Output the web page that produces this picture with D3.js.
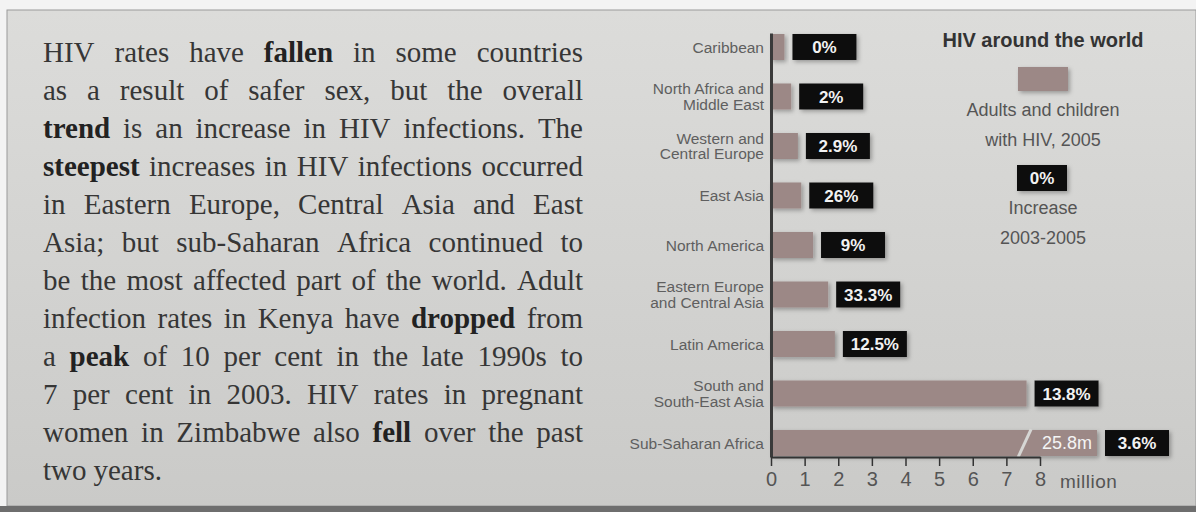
<!DOCTYPE html>
<html>
<head>
<meta charset="utf-8">
<script src="https://cdn.jsdelivr.net/npm/d3@7"></script>
<style>
  body { margin: 0; background: #f3f3f3; }
  svg { display: block; }
</style>
</head>
<body>
<div id="chart"></div>
<script>
const width = 1196;
const height = 512;

// regions, top to bottom
const categories = ["Caribbean", "North Africa and Middle East", "Western and Central Europe", "East Asia",
  "North America", "Eastern Europe and Central Asia", "Latin America", "South and South-East Asia", "Sub-Saharan Africa"];
const labelLines = [["Caribbean"], ["North Africa and", "Middle East"], ["Western and", "Central Europe"], ["East Asia"],
  ["North America"], ["Eastern Europe", "and Central Asia"], ["Latin America"], ["South and", "South-East Asia"], ["Sub-Saharan Africa"]];
// adults and children with HIV, 2005 (million)
const adults = [0.4, 0.6, 0.8, 0.9, 1.25, 1.7, 1.9, 7.6, 25.8];
// increase 2003-2005
const increase = ["0%", "2%", "2.9%", "26%", "9%", "33.3%", "12.5%", "13.8%", "3.6%"];
const xTicks = [0, 1, 2, 3, 4, 5, 6, 7, 8];

// paragraph lines, *word* = bold
const paragraph = [
  "HIV rates have *fallen* in some countries",
  "as a result of safer sex, but the overall",
  "*trend* is an increase in HIV infections. The",
  "*steepest* increases in HIV infections occurred",
  "in Eastern Europe, Central Asia and East",
  "Asia; but sub-Saharan Africa continued to",
  "be the most affected part of the world. Adult",
  "infection rates in Kenya have *dropped* from",
  "a *peak* of 10 per cent in the late 1990s to",
  "7 per cent in 2003. HIV rates in pregnant",
  "women in Zimbabwe also *fell* over the past",
  "two years."
];

const barColor = "#9c8886";
const sans = "'Liberation Sans', Arial, sans-serif";

const svg = d3.select("#chart").append("svg")
  .attr("width", width)
  .attr("height", height);

const defs = svg.append("defs");
const grad = defs.append("linearGradient").attr("id", "paper")
  .attr("x1", 0).attr("y1", 0).attr("x2", 0).attr("y2", 1);
grad.append("stop").attr("offset", 0).attr("stop-color", "#dcdcda");
grad.append("stop").attr("offset", 1).attr("stop-color", "#cacac8");

const shadow = defs.append("filter").attr("id", "shadow")
  .attr("x", "-20%").attr("y", "-30%").attr("width", "150%").attr("height", "180%");
shadow.append("feDropShadow").attr("dx", 2).attr("dy", 2).attr("stdDeviation", 2)
  .attr("flood-color", "#000").attr("flood-opacity", 0.3);

// page background
svg.append("rect").attr("x", 7).attr("y", 10).attr("width", width - 7).attr("height", height - 16)
  .attr("fill", "url(#paper)").attr("stroke", "#9a9a9a").attr("stroke-width", 1);
svg.append("rect").attr("x", 0).attr("y", height - 6).attr("width", width).attr("height", 6).attr("fill", "#6e6e6e");

// ---- paragraph, justified ----
const textLeft = 43, textRight = 583;
const para = svg.append("g").attr("class", "paragraph")
  .style("font-family", "'Liberation Serif', 'Times New Roman', serif")
  .style("font-size", "29px")
  .attr("fill", "#2e2e2e");

paragraph.forEach((line, i) => {
  const y = 62 + i * 38;
  const words = line.split(" ").map(w => {
    const bold = w.startsWith("*") && w.endsWith("*");
    return { text: bold ? w.slice(1, -1) : w, bold };
  });
  const nodes = words.map(w => para.append("text")
    .attr("y", y)
    .style("font-weight", w.bold ? "bold" : "normal")
    .attr("fill", w.bold ? "#222" : "#363636")
    .text(w.text));
  const widths = nodes.map(n => n.node().getComputedTextLength());
  const total = d3.sum(widths);
  const last = i === paragraph.length - 1;
  const gap = last ? 7 : (textRight - textLeft - total) / (words.length - 1);
  let x = textLeft;
  nodes.forEach((n, j) => {
    n.attr("x", x);
    x += widths[j] + gap;
  });
});

// ---- bar chart ----
const x = d3.scaleLinear().domain([0, 8]).range([771, 1040]);
const y = d3.scaleBand().domain(categories).range([33, 457]).paddingInner(0.475).paddingOuter(0.02);
const breakExtension = 57;   // extra length drawn for the broken bar

const barEnd = (v) => v > 8 ? x(8) + breakExtension : x(v);

const chart = svg.append("g").attr("class", "chart");

// bars
chart.selectAll("rect.bar")
  .data(categories)
  .join("rect")
  .attr("class", "bar")
  .attr("x", x(0))
  .attr("y", d => y(d))
  .attr("width", (d, i) => barEnd(adults[i]) - x(0))
  .attr("height", y.bandwidth())
  .attr("fill", barColor)
  .attr("filter", "url(#shadow)");

// break mark on the long bar
categories.forEach((d, i) => {
  if (adults[i] <= 8) return;
  const bx = x(7.35);
  chart.append("line")
    .attr("x1", bx).attr("y1", y(d) + y.bandwidth() + 1)
    .attr("x2", bx + 13).attr("y2", y(d) - 1)
    .attr("stroke", "#d6d6d4").attr("stroke-width", 3);
  chart.append("text")
    .attr("x", barEnd(adults[i]) - 5)
    .attr("y", y(d) + y.bandwidth() / 2)
    .attr("dy", "0.36em")
    .attr("text-anchor", "end")
    .attr("fill", "#f4f4f4")
    .style("font-family", sans)
    .style("font-size", "18px")
    .text(adults[i] + "m");
});

// increase boxes
const box = chart.selectAll("g.inc")
  .data(categories)
  .join("g")
  .attr("class", "inc")
  .attr("transform", (d, i) => `translate(${barEnd(adults[i]) + 8},${y(d)})`);
box.append("rect")
  .attr("width", 64)
  .attr("height", y.bandwidth())
  .attr("fill", "#111")
  .attr("filter", "url(#shadow)");
box.append("text")
  .attr("x", 32)
  .attr("y", y.bandwidth() / 2)
  .attr("dy", "0.36em")
  .attr("text-anchor", "middle")
  .attr("fill", "#f2f2f2")
  .style("font-family", sans)
  .style("font-size", "17px")
  .style("font-weight", "bold")
  .text((d, i) => increase[i]);

// category labels
const labels = chart.selectAll("text.cat")
  .data(categories)
  .join("text")
  .attr("class", "cat")
  .attr("text-anchor", "end")
  .attr("fill", "#5f5f5f")
  .style("font-family", sans)
  .style("font-size", "15.5px");
labels.each(function (d, i) {
  const lines = labelLines[i];
  const cy = y(d) + y.bandwidth() / 2;
  d3.select(this).selectAll("tspan")
    .data(lines)
    .join("tspan")
    .attr("x", 764)
    .attr("y", (l, k) => cy + (k - (lines.length - 1) / 2) * 15.5)
    .attr("dy", "0.36em")
    .text(l => l);
});

// vertical axis line
chart.append("g")
  .attr("transform", `translate(${x(0)},0)`)
  .call(d3.axisLeft(y).tickSize(0).tickFormat(""))
  .call(g => g.select(".domain").attr("stroke", "#3a3a3a").attr("stroke-width", 3));

// x axis
const xAxis = chart.append("g")
  .attr("transform", `translate(0,${y.range()[1]})`)
  .call(d3.axisBottom(x).tickValues(xTicks).tickSize(9).tickSizeOuter(0).tickPadding(6).tickFormat(d3.format("d")));
xAxis.select(".domain").attr("stroke", "#333").attr("stroke-width", 2);
xAxis.selectAll(".tick line").attr("stroke", "#333").attr("stroke-width", 1.5);
xAxis.selectAll(".tick text")
  .attr("fill", "#555")
  .style("font-family", sans)
  .style("font-size", "20px");
chart.append("text")
  .attr("x", 1060)
  .attr("y", 488)
  .attr("fill", "#555")
  .style("font-family", sans)
  .style("font-size", "19px")
  .style("letter-spacing", "0.5px")
  .text("million");

// ---- legend ----
const lx = 1043;
const legend = svg.append("g").attr("class", "legend")
  .style("font-family", sans)
  .attr("text-anchor", "middle");
legend.append("text")
  .attr("x", lx).attr("y", 47)
  .attr("fill", "#333")
  .style("font-size", "20px")
  .style("font-weight", "bold")
  .text("HIV around the world");
legend.append("rect")
  .attr("x", lx - 25).attr("y", 67).attr("width", 50).attr("height", 24)
  .attr("fill", barColor).attr("filter", "url(#shadow)");
legend.append("text").attr("x", lx).attr("y", 116).attr("fill", "#555")
  .style("font-size", "18px").text("Adults and children");
legend.append("text").attr("x", lx).attr("y", 146).attr("fill", "#555")
  .style("font-size", "18px").text("with HIV, 2005");
legend.append("rect")
  .attr("x", lx - 26).attr("y", 165).attr("width", 50).attr("height", 26)
  .attr("fill", "#111").attr("filter", "url(#shadow)");
legend.append("text").attr("x", lx - 1).attr("y", 178).attr("dy", "0.36em").attr("fill", "#f2f2f2")
  .style("font-size", "17px").style("font-weight", "bold").text(increase[0]);
legend.append("text").attr("x", lx).attr("y", 214).attr("fill", "#555")
  .style("font-size", "18px").text("Increase");
legend.append("text").attr("x", lx).attr("y", 244).attr("fill", "#555")
  .style("font-size", "18px").text("2003-2005");
</script>
</body>
</html>
